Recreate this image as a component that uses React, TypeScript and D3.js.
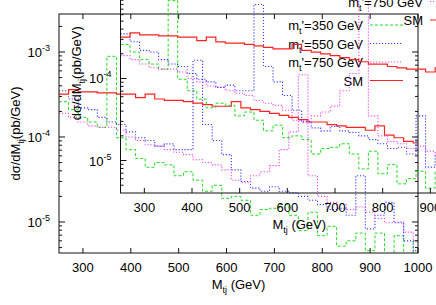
import * as d3 from "d3";

const W = 436;
const H = 305;

// lower edges of the 20 GeV bins
const binLow = [
  250, 270, 290, 310, 330, 350, 370, 390, 410, 430, 450, 470, 490, 510, 530,
  550, 570, 590, 610, 630, 650, 670, 690, 710, 730, 750, 770, 790, 810, 830,
  850, 870, 890, 910, 930, 950, 970, 990,
];
const binHigh = 1010;

const xTicks = [300, 400, 500, 600, 700, 800, 900, 1000];
const decades = [-5, -4, -3];
const legendMasses = ["350", "550", "750"];

// dsigma/dM (pb/GeV), one value per bin
const sm = [
  3.2e-4, 3.6e-4, 3.4e-4, 3.4e-4, 3.3e-4, 3.3e-4, 3.2e-4, 3.2e-4, 2.9e-4, 3.2e-4,
  2.8e-4, 2.7e-4, 2.7e-4, 2.6e-4, 2.5e-4, 2.4e-4, 2.3e-4, 2.3e-4, 2.6e-4, 2.2e-4,
  2.1e-4, 2.0e-4, 1.9e-4, 1.8e-4, 1.7e-4, 1.6e-4, 1.5e-4, 1.5e-4, 1.4e-4, 1.35e-4,
  1.3e-4, 1.3e-4, 1.2e-4, 1.35e-4, 1.05e-4, 9.8e-5, 8.9e-5, 8.5e-5,
];
const mt350 = [
  2.6e-4, 2.1e-4, 1.7e-4, 1.5e-4, 1.3e-4, 8.9e-4, 9.8e-5, 7.1e-5, 5.6e-5, 4.4e-5,
  5.0e-5, 4.7e-5, 3.5e-5, 3.9e-5, 3.1e-5, 2.3e-5, 2.7e-5, 1.9e-5, 2.0e-5, 1.8e-5,
  1.2e-5, 1.4e-5, 1.45e-5, 1.6e-5, 1.2e-5, 7.9e-6, 1.3e-5, 6.9e-6, 8.9e-6, 5.2e-6,
  6.0e-6, 7.4e-6, 4.6e-6, 7.4e-6, 3.5e-6, 6.9e-6, 3.2e-6, 6.0e-6,
];
const mt550 = [
  3.5e-4, 2.8e-4, 2.2e-4, 2.1e-4, 1.7e-4, 1.5e-4, 1.4e-4, 1.15e-4, 9.8e-5, 9.1e-5,
  7.8e-5, 8.3e-5, 7.1e-5, 7.1e-5, 8.0e-4, 1.4e-4, 9.1e-5, 6.2e-5, 4.1e-5, 3.0e-5,
  2.5e-5, 2.3e-5, 2.6e-5, 2.3e-5, 2.2e-5, 2.0e-5, 1.8e-5, 1.6e-5, 1.4e-5, 1.45e-5,
  1.2e-5, 3.5e-5, 8.3e-6, 1.2e-5, 1.7e-5, 9.8e-6, 6.0e-6, 4.6e-6,
];
const mt750 = [
  1.9e-4, 1.7e-4, 1.5e-4, 1.35e-4, 1.3e-4, 1.3e-4, 1.2e-4, 1.0e-4, 9.1e-5, 8.1e-5,
  7.8e-5, 7.1e-5, 6.6e-5, 6.2e-5, 5.4e-5, 5.0e-5, 4.7e-5, 4.1e-5, 3.1e-5, 2.9e-5,
  3.5e-5, 3.9e-5, 4.6e-5, 7.1e-5, 1.15e-4, 5.4e-4, 3.5e-5, 2.0e-5, 1.7e-5, 1.6e-5,
  1.4e-5, 1.5e-5, 1.3e-5, 1.1e-5, 9.8e-6, 1.0e-5, 7.6e-6, 6.0e-6,
];
// the inset copy shows a taller 750 GeV peak
const mt750Inset = [
  1.9e-4, 1.7e-4, 1.5e-4, 1.35e-4, 1.3e-4, 1.3e-4, 1.2e-4, 1.0e-4, 9.1e-5, 8.1e-5,
  7.8e-5, 7.1e-5, 6.6e-5, 6.2e-5, 5.4e-5, 5.0e-5, 4.7e-5, 4.1e-5, 3.1e-5, 2.9e-5,
  3.5e-5, 3.9e-5, 4.6e-5, 7.1e-5, 1.15e-4, 1.2e-3, 3.5e-5, 2.0e-5, 1.7e-5, 1.6e-5,
  1.4e-5, 1.5e-5, 1.3e-5, 1.1e-5, 9.8e-6, 1.0e-5, 7.6e-6, 6.0e-6,
];

const styles = [
  { color: "#22dd22", dash: "3,2", width: 1 },
  { color: "#3b3bff", dash: "1.2,1.8", width: 1.1 },
  { color: "#f048f0", dash: "1.2,1.8", width: 1.1 },
  { color: "#ff2222", dash: undefined, width: 1.2 },
];

const FONT = "'Liberation Sans', Arial, Helvetica, sans-serif";

interface PanelProps {
  id: string;
  xr: [number, number];
  yr: [number, number];
  yDom: [number, number];
  series: number[][];
}

function Panel({ id, xr, yr, yDom, series }: PanelProps) {
  const x = d3.scaleLinear().domain([250, 1000]).range(xr);
  const y = d3.scaleLog().domain(yDom).range(yr);
  const [left, right] = xr;
  const [bottom, top] = yr;

  const line = d3
    .line<[number, number]>()
    .x((d) => x(d[0]))
    .y((d) => y(d[1]))
    .curve(d3.curveStepAfter);

  const pathFor = (vals: number[]) => {
    const pts: [number, number][] = binLow.map((b, i) => [b, vals[i]]);
    pts.push([binHigh, vals[vals.length - 1]]);
    return line(pts) ?? "";
  };

  const minor: number[] = [];
  for (let e = -6; e <= -2; e++) {
    for (let k = 2; k <= 9; k++) {
      const v = k * Math.pow(10, e);
      if (v > yDom[0] && v < yDom[1]) minor.push(v);
    }
  }

  const midX = (left + right) / 2;
  const midY = (top + bottom) / 2;

  return (
    <g>
      <defs>
        <clipPath id={`clip-${id}`}>
          <rect x={left} y={top} width={right - left} height={bottom - top} />
        </clipPath>
      </defs>

      {/* histograms */}
      <g clipPath={`url(#clip-${id})`}>
        {series.map((s, i) => (
          <path
            key={i}
            d={pathFor(s)}
            fill="none"
            stroke={styles[i].color}
            strokeWidth={styles[i].width}
            strokeDasharray={styles[i].dash}
          />
        ))}
      </g>

      {/* frame */}
      <rect
        x={left}
        y={top}
        width={right - left}
        height={bottom - top}
        fill="none"
        stroke="#111"
        strokeWidth={1}
      />

      {/* x ticks */}
      {xTicks.map((t) => (
        <g key={t}>
          <line x1={x(t)} x2={x(t)} y1={bottom} y2={bottom - 5} stroke="#111" />
          <line x1={x(t)} x2={x(t)} y1={top} y2={top + 5} stroke="#111" />
          <text
            x={x(t)}
            y={bottom + 19}
            textAnchor="middle"
            fontSize={13}
            fill="#000"
          >
            {t}
          </text>
        </g>
      ))}

      {/* y ticks */}
      {minor.map((v, i) => (
        <g key={`m${i}`}>
          <line x1={left} x2={left + 3} y1={y(v)} y2={y(v)} stroke="#111" />
          <line x1={right} x2={right - 3} y1={y(v)} y2={y(v)} stroke="#111" />
        </g>
      ))}
      {decades.map((e) => {
        const v = Math.pow(10, e);
        const yy = y(v);
        return (
          <g key={e}>
            <line x1={left} x2={left + 6} y1={yy} y2={yy} stroke="#111" />
            <line x1={right} x2={right - 6} y1={yy} y2={yy} stroke="#111" />
            {yy > 8 && (
              <text
                x={left - 9}
                y={yy + 5}
                textAnchor="end"
                fontSize={13}
                fill="#000"
              >
                10
                <tspan fontSize={9} dy={-6}>
                  {e}
                </tspan>
              </text>
            )}
          </g>
        );
      })}

      {/* axis titles */}
      <text x={midX} y={bottom + 36} textAnchor="middle" fontSize={13} fill="#000">
        M
        <tspan fontSize={9} dy={4}>
          tj
        </tspan>
        <tspan dy={-4}> (GeV)</tspan>
      </text>
      <text
        transform={`translate(${left - 39.5},${midY}) rotate(-90)`}
        textAnchor="middle"
        fontSize={13}
        fill="#000"
      >
        dσ/dM
        <tspan fontSize={9} dy={4}>
          tj
        </tspan>
        <tspan dy={-4}>(pb/GeV)</tspan>
      </text>

      {/* legend */}
      {styles.map((st, i) => {
        const ly = top + 11 + 18.5 * i;
        return (
          <g key={`lg${i}`}>
            <text
              x={right - 55}
              y={ly + 5}
              textAnchor="end"
              fontSize={13}
              fill="#000"
            >
              {i < 3 ? (
                <>
                  m
                  <tspan fontSize={9} dy={4}>
                    t
                  </tspan>
                  <tspan dy={-4}>{`'=${legendMasses[i]} GeV`}</tspan>
                </>
              ) : (
                "SM"
              )}
            </text>
            <line
              x1={right - 48}
              x2={right - 15}
              y1={ly}
              y2={ly}
              stroke={st.color}
              strokeWidth={st.width}
              strokeDasharray={st.dash}
            />
          </g>
        );
      })}
    </g>
  );
}

export default function App() {
  return (
    <svg
      width={W}
      height={H}
      style={{ position: "absolute", left: 0, top: 0, background: "#fff" }}
      fontFamily={FONT}
    >
      <Panel
        id="main"
        xr={[59, 418]}
        yr={[253, 14]}
        yDom={[Math.pow(10, -5.365), Math.pow(10, -2.553)]}
        series={[mt350, mt550, mt750, sm]}
      />
      <Panel
        id="inset"
        xr={[120.5, 478]}
        yr={[193, -46.5]}
        yDom={[Math.pow(10, -5.396), Math.pow(10, -2.476)]}
        series={[mt350, mt550, mt750Inset, sm]}
      />
    </svg>
  );
}
